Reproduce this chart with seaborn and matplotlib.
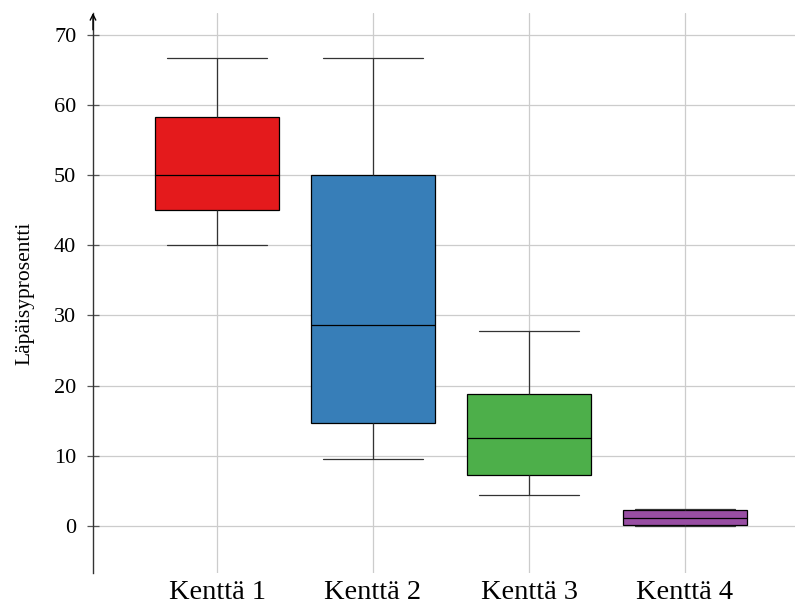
import matplotlib
matplotlib.use("Agg")
import matplotlib.pyplot as plt
import seaborn as sns
import pandas as pd

# Five-number summaries: min, Q1, median, Q3, max
categories = ["Kenttä 1", "Kenttä 2", "Kenttä 3", "Kenttä 4"]
kentta1 = [40.0, 45.0, 50.0, 58.33, 66.67]
kentta2 = [9.52, 14.7, 28.57, 50.0, 66.67]
kentta3 = [4.35, 7.2, 12.5, 18.75, 27.78]
kentta4 = [0.0, 0.15, 1.1, 2.25, 2.38]
colors = ["#e41a1c", "#377eb8", "#4daf4a", "#984ea3"]
yticks = [0, 10, 20, 30, 40, 50, 60, 70]
ylabel = "Läpäisyprosentti"

rows = []
for cat, vals in zip(categories, [kentta1, kentta2, kentta3, kentta4]):
    for v in vals:
        rows.append({"Kenttä": cat, "Arvo": v})
df = pd.DataFrame(rows)

sns.set_style("white")
plt.rcParams["font.family"] = ["Liberation Serif", "DejaVu Serif"]
plt.rcParams["text.color"] = "black"
plt.rcParams["axes.labelcolor"] = "black"
plt.rcParams["xtick.color"] = "black"
plt.rcParams["ytick.color"] = "black"
plt.rcParams["ytick.left"] = True

fig = plt.figure(figsize=(7.95, 6.08), dpi=100)
ax = fig.add_axes([93 / 795, 35 / 608, 1 - 93 / 795, (573 - 13) / 608])

sns.boxplot(data=df, x="Kenttä", y="Arvo", hue="Kenttä", palette=colors,
            order=categories, hue_order=categories, legend=False,
            whis=(0, 100), width=0.8, saturation=1, linecolor="black",
            linewidth=0.9, ax=ax, zorder=3,
            whiskerprops=dict(color="#333333", linewidth=0.9),
            capprops=dict(color="#333333", linewidth=0.9),
            medianprops=dict(color="black", linewidth=0.9))

# widen caps to 0.64 of category spacing
for line in ax.lines:
    xd = list(line.get_xdata())
    yd = list(line.get_ydata())
    if len(xd) == 2 and yd[0] == yd[1] and abs(xd[1] - xd[0]) > 0 and abs(xd[1] - xd[0]) < 0.79:
        c = (xd[0] + xd[1]) / 2
        line.set_xdata([c - 0.32, c + 0.32])

ax.set_xlim(-0.795, 3.705)
ax.set_ylim(-6.7, 73.1)
ax.set_yticks(yticks)
ax.set_yticklabels([str(t) for t in yticks])
ax.set_xlabel("")
ax.set_ylabel(ylabel, fontsize=15.5, labelpad=14, color="black")

ax.grid(True, color="#cccccc", linewidth=0.9, zorder=0)
ax.set_axisbelow(True)
for s in ["top", "right", "bottom"]:
    ax.spines[s].set_visible(False)
ax.spines["left"].set_color("#333333")
ax.spines["left"].set_linewidth(1.0)

ax.tick_params(axis="y", left=True, direction="inout", length=8, width=0.9,
               color="#555555", labelcolor="black", labelsize=16, pad=8)
ax.tick_params(axis="x", bottom=False, length=0, labelsize=20.5, pad=5,
               labelcolor="black")

ax.annotate("", xy=(0, 1.0), xycoords="axes fraction", xytext=(0, 0.97),
            arrowprops=dict(arrowstyle="->,head_length=0.4,head_width=0.2",
                            color="black", lw=1.0, shrinkA=0, shrinkB=0),
            annotation_clip=False)

fig.savefig("out.png", dpi=100)
